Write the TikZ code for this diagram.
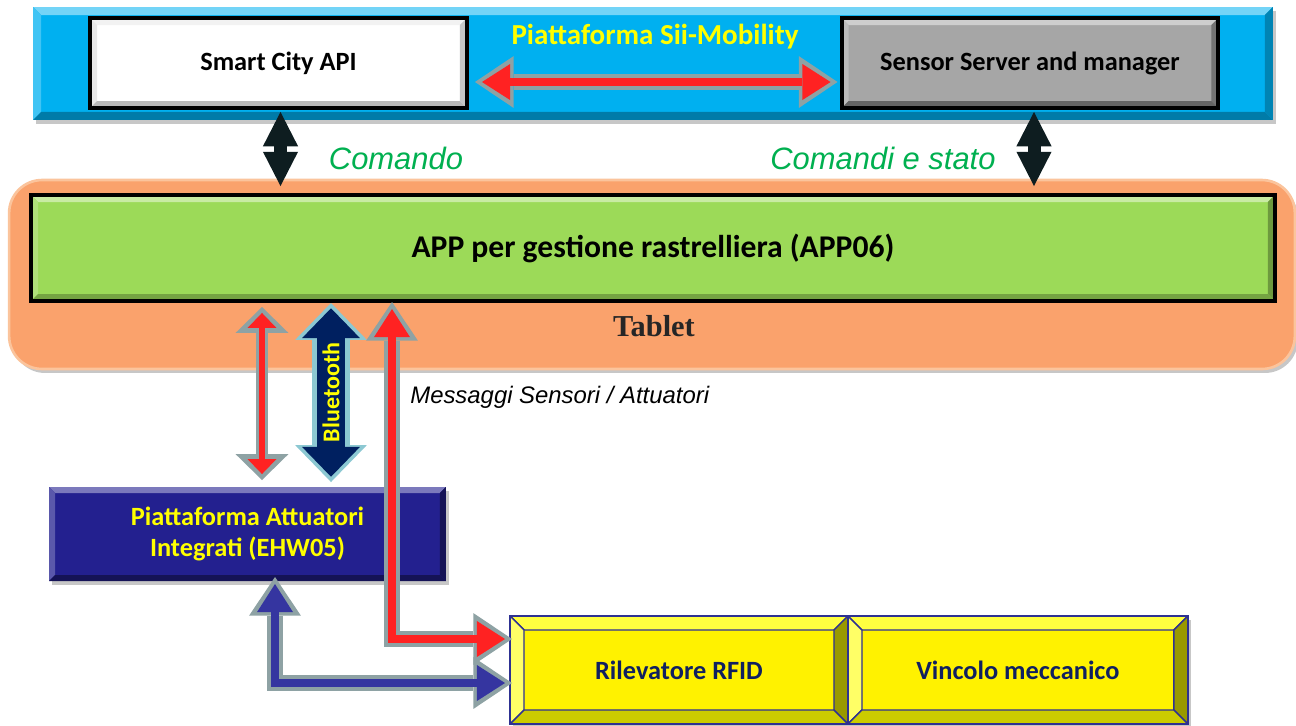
\documentclass[tikz,border=0pt]{standalone}
\usepackage{fontspec}
\setmainfont{Carlito}
\newfontfamily\arialfont{Liberation Sans}
\newfontfamily\timesfont{Liberation Serif}
\usepackage{xcolor}
\usepackage{tikz}
\usetikzlibrary{positioning,calc,arrows.meta,backgrounds}

\definecolor{platcyan}{HTML}{00B0F0}
\definecolor{servgray}{HTML}{A6A6A6}
\definecolor{tabletorange}{HTML}{FAA26C}
\definecolor{tabletrim}{HTML}{FBC49C}
\definecolor{tabletext}{HTML}{262626}
\definecolor{appgreen}{HTML}{9CDA58}
\definecolor{attnavy}{HTML}{23208F}
\definecolor{boxborder}{HTML}{2E3192}
\definecolor{boxtext}{HTML}{102060}
\definecolor{bevlight}{HTML}{FFFF66}
\definecolor{bevtop}{HTML}{FFFF40}
\definecolor{bevright}{HTML}{999900}
\definecolor{bevbottom}{HTML}{CCCC00}
\definecolor{linkred}{HTML}{FF2222}
\definecolor{rimgray}{HTML}{8EA2A4}
\definecolor{btnavy}{HTML}{002060}
\definecolor{btrim}{HTML}{8CC8D2}
\definecolor{linkblue}{HTML}{3535A0}
\definecolor{cmdblack}{HTML}{0E1D20}
\definecolor{cmdgreen}{HTML}{00B050}
\definecolor{labelyellow}{HTML}{FFFF00}

\newcommand{\bevelfaces}[6]{%
  \coordinate (bvnw) at (path picture bounding box.north west);
  \coordinate (bvne) at (path picture bounding box.north east);
  \coordinate (bvsw) at (path picture bounding box.south west);
  \coordinate (bvse) at (path picture bounding box.south east);
  \filldraw[line width=0.8pt,fill=#2,draw=#6] (bvnw) -- (bvne) -- ([shift={(-#1,-#1)}]bvne) -- ([shift={(#1,-#1)}]bvnw) -- cycle;
  \filldraw[line width=0.8pt,fill=#3,draw=#6] (bvnw) -- ([shift={(#1,-#1)}]bvnw) -- ([shift={(#1,#1)}]bvsw) -- (bvsw) -- cycle;
  \filldraw[line width=0.8pt,fill=#4,draw=#6] (bvne) -- (bvse) -- ([shift={(-#1,#1)}]bvse) -- ([shift={(-#1,-#1)}]bvne) -- cycle;
  \filldraw[line width=0.8pt,fill=#5,draw=#6] (bvsw) -- ([shift={(#1,#1)}]bvsw) -- ([shift={(-#1,#1)}]bvse) -- (bvse) -- cycle;
}

\begin{document}
\begin{tikzpicture}[x=0.02cm,y=-0.02cm,
    boxfont/.style={font=\bfseries\fontsize{15}{18}\selectfont},
    serverbox/.style={boxfont,draw=black,line width=2.3pt,minimum width=7.54cm,minimum height=1.8cm,outer sep=0pt},
    partbox/.style={boxfont,text=boxtext,draw=boxborder,line width=1.2pt,fill=yellow,minimum height=2.16cm,outer sep=0pt,
      path picture={\bevelfaces{0.28cm}{bevtop}{bevlight}{bevright}{bevbottom}{boxborder}}},
    cmdlabel/.style={font=\arialfont\itshape\fontsize{17.6}{21}\selectfont,text=cmdgreen},
    rimline/.style={draw=rimgray,line width=9.6pt,line join=miter},
    coreline/.style={line width=4.8pt,line join=miter,shorten <=4pt,shorten >=4pt},
    cmdline/.style={draw=cmdblack,line width=7.4pt},
    bigrim/.tip={Triangle[length=22pt,width=29.5pt,line width=0pt]},
    bigcore/.tip={Triangle[length=16pt,width=20.5pt,line width=0pt]},
    flatrim/.tip={Triangle[length=14.7pt,width=30pt,line width=0pt]},
    flatcore/.tip={Triangle[length=8.5pt,width=16.4pt,line width=0pt]},
    btrimtip/.tip={Triangle[length=21pt,width=40.8pt,line width=0pt]},
    btcoretip/.tip={Triangle[length=17pt,width=33pt,line width=0pt]},
    cmdtip/.tip={Triangle[length=19.5pt,width=20pt,line width=0pt]}]
    \useasboundingbox (0,0) rectangle (1296,725);

    \node[fill=platcyan,minimum width=24.8cm,minimum height=2.26cm,outer sep=0pt,
      path picture={\bevelfaces{0.16cm}{platcyan!55!white}{platcyan!75!white}{platcyan!75!black}{platcyan!70!black}{none}}] (platform) at (653,63.5) {};
    \node[serverbox,fill=white,
      path picture={\bevelfaces{0.14cm}{gray!10}{gray!18}{gray!45}{gray!55}{none}}] (smartapi) at (278.5,63) {Smart City API};
    \node[serverbox,fill=servgray,
      path picture={\bevelfaces{0.14cm}{servgray!55!white}{servgray!75!white}{servgray!70!black}{servgray!60!black}{none}}] (sensorserver) at (1030,63) {Sensor Server and manager};

    \node[fill=tabletorange,draw=tabletrim,line width=1.5pt,rounded corners=0.66cm,minimum width=25.72cm,minimum height=3.78cm,outer sep=0pt] (tablet) at (652,274.5) {};
    \node[draw=black,line width=2.3pt,fill=appgreen,minimum width=24.88cm,minimum height=2.12cm,outer sep=0pt,
      font=\bfseries\fontsize{18}{21}\selectfont,
      path picture={\bevelfaces{0.14cm}{appgreen!55!white}{appgreen!80!white}{appgreen!70!black}{appgreen!75!black}{none}}] (app) at (653,248) {APP per gestione rastrelliera (APP06)};

    \node[boxfont,text=labelyellow,fill=attnavy,align=center,minimum width=7.94cm,minimum height=1.88cm,outer sep=0pt,
      path picture={\bevelfaces{0.12cm}{attnavy!60!white}{attnavy!75!white}{attnavy!60!black}{attnavy!60!black}{none}}] (attuatori) at (247.5,534) {Piattaforma Attuatori\\Integrati (EHW05)};

    \node[partbox,minimum width=6.76cm] (rfid) at (679,670) {Rilevatore RFID};
    \node[partbox,minimum width=6.8cm,right=0pt of rfid] (vincolo) {Vincolo meccanico};

    \coordinate (laneA) at (262,0);
    \coordinate (laneB) at (331,0);
    \coordinate (laneC) at (392,0);
    \coordinate (laneD) at (275,0);

    \draw[rimline,bigrim-bigrim] ($(smartapi.east)+(8,19)$) -- ($(sensorserver.west)+(-4,19)$);
    \draw[coreline,draw=linkred,bigcore-bigcore] ($(smartapi.east)+(8,19)$) -- ($(sensorserver.west)+(-4,19)$);

    \draw[cmdline,cmdtip-cmdtip] ($(smartapi.south |- platform.south)+(2,-8)$) -- ($(smartapi.south |- tablet.north)+(2,6)$);
    \draw[cmdline,cmdtip-cmdtip] ($(sensorserver.south |- platform.south)+(4,-8)$) -- ($(sensorserver.south |- tablet.north)+(4,6)$);

    \draw[draw=rimgray,line width=6.8pt,flatrim-flatrim] ($(laneA |- app.south)+(0,6)$) -- ($(laneA |- attuatori.north)+(0,-7)$);
    \draw[draw=linkred,line width=3.4pt,flatcore-flatcore,shorten <=3.4pt,shorten >=3.4pt] ($(laneA |- app.south)+(0,6)$) -- ($(laneA |- attuatori.north)+(0,-7)$);

    \draw[draw=btrim,line width=21.5pt,btrimtip-btrimtip] ($(laneB |- app.south)+(0,2)$) -- ($(laneB |- attuatori.north)+(0,-5)$);
    \draw[draw=btnavy,line width=15.9pt,btcoretip-btcoretip,shorten <=3pt,shorten >=3pt] ($(laneB |- app.south)+(0,2)$) -- ($(laneB |- attuatori.north)+(0,-5)$)
      node[midway,rotate=90,text=labelyellow,font=\bfseries\fontsize{13.7}{16}\selectfont] (btlabel) {Bluetooth};

    \draw[rimline,bigrim-bigrim] ($(laneC |- app.south)+(0,1)$) |- ($(rfid.west)+(2,-31)$);
    \draw[coreline,draw=linkred,bigcore-bigcore] ($(laneC |- app.south)+(0,1)$) |- ($(rfid.west)+(2,-31)$);

    \draw[rimline,bigrim-bigrim] ($(laneD |- attuatori.south)+(0,-4)$) |- ($(rfid.west)+(2,13)$);
    \draw[coreline,draw=linkblue,bigcore-bigcore] ($(laneD |- attuatori.south)+(0,-4)$) |- ($(rfid.west)+(2,13)$);

    \node[font=\bfseries\fontsize{16.5}{20}\selectfont,text=labelyellow] (platlabel) at (655,37) {Piattaforma Sii-Mobility};
    \node[cmdlabel] (cmdleft) at (396,158) {Comando};
    \node[cmdlabel] (cmdright) at (883,158) {Comandi e stato};
    \node[font=\timesfont\bfseries\fontsize{17.3}{20}\selectfont,text=tabletext] (tabletlabel) at (654,326) {Tablet};
    \node[anchor=west,inner sep=0pt,font=\arialfont\itshape\fontsize{13.6}{16}\selectfont] (msglabel) at (410,397) {Messaggi Sensori / Attuatori};

    \begin{scope}[on background layer]
        \fill[white] (0,0) rectangle (1296,725);
        \fill[black,opacity=0.22,rounded corners=0.66cm] ($(tablet.south west)+(3,4)$) rectangle ($(tablet.north east)+(3,4)$);
        \foreach \nm in {platform,attuatori,rfid,vincolo}
            \fill[black,opacity=0.22] ($(\nm.south west)+(3,4)$) rectangle ($(\nm.north east)+(3,4)$);
    \end{scope}
\end{tikzpicture}
\end{document}
